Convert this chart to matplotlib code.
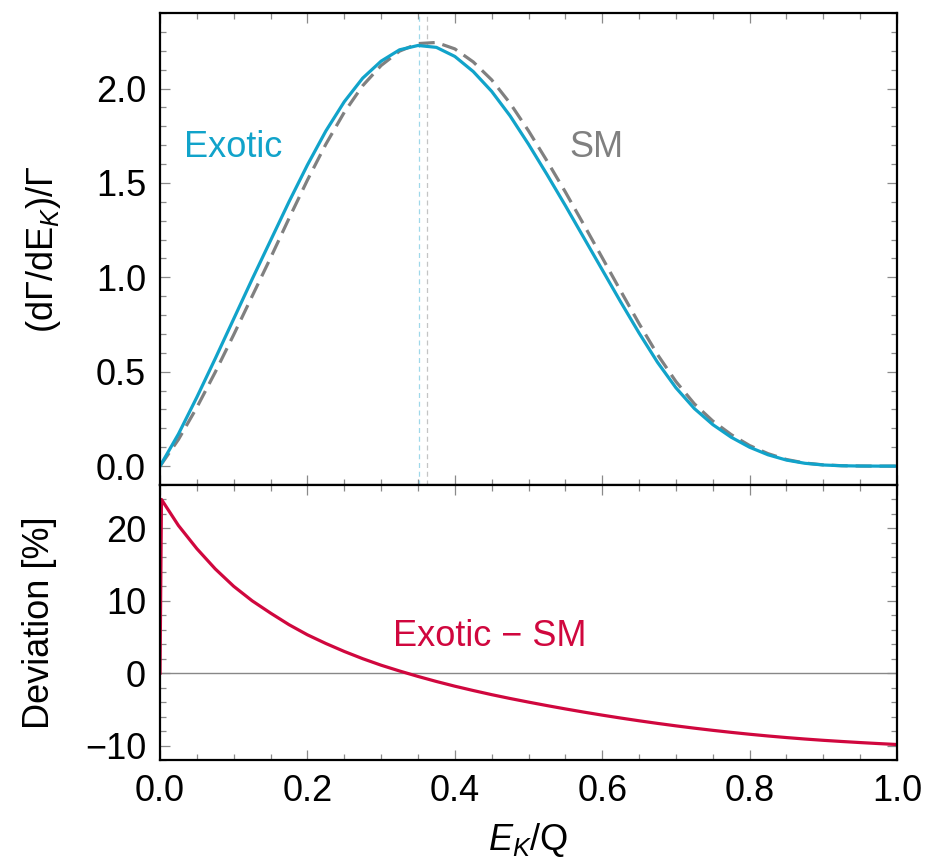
import numpy as np
import matplotlib
matplotlib.use('Agg')
import matplotlib.pyplot as plt
from matplotlib.ticker import MultipleLocator

plt.rcParams['font.family'] = ['Liberation Sans', 'DejaVu Sans']
plt.rcParams['mathtext.fontset'] = 'custom'
plt.rcParams['mathtext.rm'] = 'Liberation Sans'
plt.rcParams['mathtext.it'] = 'Liberation Sans:italic'

# energy grid E_K/Q
ek = [0.0, 0.025, 0.05, 0.075, 0.10, 0.125, 0.15, 0.175, 0.20, 0.225,
      0.25, 0.275, 0.30, 0.325, 0.35, 0.375, 0.40, 0.425, 0.45, 0.475,
      0.50, 0.525, 0.55, 0.575, 0.60, 0.625, 0.65, 0.675, 0.70, 0.725,
      0.75, 0.775, 0.80, 0.825, 0.85, 0.875, 0.90, 0.925, 0.95, 0.975, 1.0]

exotic = [0.0, 0.17, 0.365, 0.57, 0.78, 0.99, 1.195, 1.40, 1.595, 1.775,
          1.93, 2.055, 2.145, 2.205, 2.228, 2.218, 2.17, 2.09, 1.985, 1.855,
          1.705, 1.545, 1.38, 1.21, 1.04, 0.87, 0.705, 0.55, 0.415, 0.305,
          0.22, 0.153, 0.10, 0.06, 0.032, 0.015, 0.006, 0.002, 0.0005, 0.0, 0.0]

sm = [0.0, 0.141, 0.311, 0.498, 0.696, 0.900, 1.103, 1.312, 1.515, 1.705,
      1.874, 2.015, 2.122, 2.198, 2.238, 2.244, 2.210, 2.141, 2.046, 1.922,
      1.776, 1.617, 1.452, 1.279, 1.104, 0.928, 0.755, 0.591, 0.448, 0.330,
      0.239, 0.167, 0.109, 0.066, 0.035, 0.0165, 0.0066, 0.0022, 0.0006, 0.0, 0.0]

# deviation in percent; first point is 0 (0/0 at the endpoint)
ek_dev = [0.0, 0.002] + ek[1:]
dev = [0.0, 24.0, 20.4, 17.2, 14.4, 12.0, 10.0, 8.3, 6.7, 5.3, 4.1,
       3.0, 2.0, 1.1, 0.3, -0.45, -1.15, -1.8, -2.4, -2.97, -3.5,
       -4.0, -4.48, -4.94, -5.38, -5.8, -6.2, -6.58, -6.94, -7.28, -7.6,
       -7.9, -8.18, -8.44, -8.68, -8.9, -9.1, -9.28, -9.44, -9.59, -9.73, -9.86]

peak_exotic = 0.352
peak_sm = 0.3626

c_exo = '#11a3ca'
c_sm = '#808080'
c_dev = '#d0073e'
fs = 26

fig = plt.figure(figsize=(9.26, 8.61), dpi=100)
ax1 = fig.add_axes([0.1728, 0.4367, 0.7959, 0.5482])
ax2 = fig.add_axes([0.1728, 0.1173, 0.7959, 0.3194], sharex=ax1)

ax1.axvline(peak_exotic, color='#9fd8ea', lw=0.9, dashes=(4, 3))
ax1.axvline(peak_sm, color='#c4c4c4', lw=0.9, dashes=(4, 3))
ax1.plot(ek, sm, color=c_sm, lw=2.3, dashes=(5, 2.5))
ax1.plot(ek, exotic, color=c_exo, lw=2.3)
ax1.text(0.099, 1.69, 'Exotic', color=c_exo, fontsize=fs, ha='center', va='center')
ax1.text(0.592, 1.69, 'SM', color=c_sm, fontsize=fs, ha='center', va='center')
ax1.set_ylim(-0.1, 2.4)
ax1.set_xlim(0, 1)
ax1.yaxis.set_major_locator(MultipleLocator(0.5))
ax1.yaxis.set_minor_locator(MultipleLocator(0.1))
ax1.set_ylabel(r'(dΓ/dE$_{K}$)/Γ', fontsize=fs, labelpad=24)
plt.setp(ax1.get_xticklabels(), visible=False)

ax2.axhline(0, color='#888888', lw=1.0)
ax2.plot(ek_dev, dev, color=c_dev, lw=2.3)
ax2.text(0.448, 5.1, 'Exotic − SM', color=c_dev, fontsize=fs, ha='center', va='center')
ax2.set_ylim(-12, 26)
ax2.yaxis.set_major_locator(MultipleLocator(10))
ax2.yaxis.set_minor_locator(MultipleLocator(2))
ax2.xaxis.set_major_locator(MultipleLocator(0.2))
ax2.xaxis.set_minor_locator(MultipleLocator(0.05))
ax2.set_ylabel('Deviation [%]', fontsize=fs, labelpad=20)
ax2.set_xlabel(r'$E_K$/Q', fontsize=fs, labelpad=9)

for ax in (ax1, ax2):
    for s in ax.spines.values():
        s.set_linewidth(1.6)
    ax.tick_params(which='both', direction='in', top=True, right=True,
                   color='#8a8a8a', labelsize=fs, width=0.9, pad=10)
    ax.tick_params(which='major', length=7.5)
    ax.tick_params(which='minor', length=4.5)

fig.savefig('out.png', dpi=100)
